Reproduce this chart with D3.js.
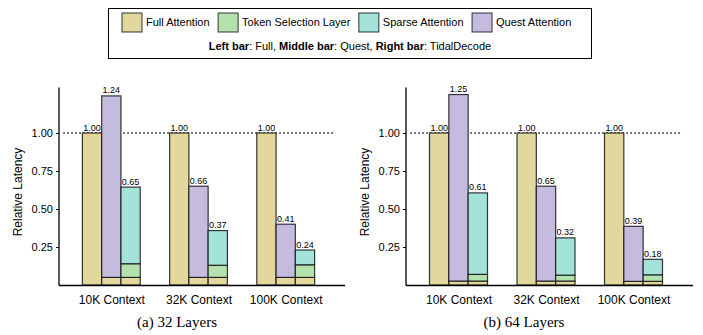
<!DOCTYPE html>
<html>
<head>
<meta charset="utf-8">
<script src="https://cdn.jsdelivr.net/npm/d3@7"></script>
<style>
  html, body { margin: 0; padding: 0; background: #fff; }
  svg { display: block; }
  text { font-family: "Liberation Sans", Arial, Helvetica, sans-serif; fill: #000; }
</style>
</head>
<body>
<svg id="chart" width="703" height="335"></svg>
<script>
// ---------------- data ----------------
const categories = ["10K Context", "32K Context", "100K Context"];
const yTicks = [0.25, 0.50, 0.75, 1.00];
const legendNames = ["Full Attention", "Token Selection Layer", "Sparse Attention", "Quest Attention"];
const colors = ["#e2d89e", "#b3e2ad", "#a3e3d9", "#c4bbdf"];

// 32 layers
const full32 = [1.00, 1.00, 1.00];
const questFull32 = [0.05, 0.05, 0.05];
const questTotal32 = [1.244, 0.65, 0.40];
const tidalFull32 = [0.05, 0.05, 0.05];
const tidalToken32 = [0.09, 0.08, 0.083];
const tidalTotal32 = [0.644, 0.358, 0.23];
const fullLabels32 = ["1.00", "1.00", "1.00"];
const questLabels32 = ["1.24", "0.66", "0.41"];
const tidalLabels32 = ["0.65", "0.37", "0.24"];

// 64 layers
const full64 = [1.00, 1.00, 1.00];
const questFull64 = [0.026, 0.026, 0.024];
const questTotal64 = [1.253, 0.65, 0.386];
const tidalFull64 = [0.026, 0.026, 0.024];
const tidalToken64 = [0.044, 0.039, 0.043];
const tidalTotal64 = [0.606, 0.31, 0.169];
const fullLabels64 = ["1.00", "1.00", "1.00"];
const questLabels64 = ["1.25", "0.65", "0.39"];
const tidalLabels64 = ["0.61", "0.32", "0.18"];

const captions = ["(a) 32 Layers", "(b) 64 Layers"];

// ---------------- drawing ----------------
const svg = d3.select("#chart");
const strokeCol = "rgba(20,20,20,0.85)";

function panel(opts) {
  const g = svg.append("g");
  const x = d3.scaleLinear().domain([-0.6, 2.68]).range([opts.left, opts.right]);
  const y = d3.scaleLinear().domain([0, 1.3]).range([285, 87.4]);
  const bw = x(0.221) - x(0);

  // dotted reference line
  g.append("line")
    .attr("x1", x(-0.55)).attr("x2", x(2.56))
    .attr("y1", y(1)).attr("y2", y(1))
    .attr("stroke", "#000").attr("stroke-width", 1.4)
    .attr("stroke-dasharray", "1.4,2.6");

  // bars: build segments
  const segs = [];
  categories.forEach((c, i) => {
    segs.push({ x: x(i) - 1.5 * bw, y0: 0, y1: opts.full[i], c: colors[0] });
    segs.push({ x: x(i) - 0.5 * bw, y0: 0, y1: opts.questFull[i], c: colors[0] });
    segs.push({ x: x(i) - 0.5 * bw, y0: opts.questFull[i], y1: opts.questTotal[i], c: colors[3] });
    const t1 = opts.tidalFull[i], t2 = t1 + opts.tidalToken[i];
    segs.push({ x: x(i) + 0.5 * bw, y0: 0, y1: t1, c: colors[0] });
    segs.push({ x: x(i) + 0.5 * bw, y0: t1, y1: t2, c: colors[1] });
    segs.push({ x: x(i) + 0.5 * bw, y0: t2, y1: opts.tidalTotal[i], c: colors[2] });
  });
  g.selectAll("rect.seg").data(segs).enter().append("rect")
    .attr("class", "seg")
    .attr("x", d => d.x).attr("width", bw)
    .attr("y", d => y(d.y1)).attr("height", d => y(d.y0) - y(d.y1))
    .attr("fill", d => d.c)
    .attr("stroke", strokeCol).attr("stroke-width", 1.2);

  // bar labels
  const labs = [];
  categories.forEach((c, i) => {
    labs.push({ x: x(i) - bw, v: opts.full[i], t: opts.fullLabels[i] });
    labs.push({ x: x(i), v: opts.questTotal[i], t: opts.questLabels[i] });
    labs.push({ x: x(i) + bw, v: opts.tidalTotal[i], t: opts.tidalLabels[i] });
  });
  g.selectAll("text.lab").data(labs).enter().append("text")
    .attr("class", "lab")
    .attr("x", d => d.x).attr("y", d => y(d.v) - 2.5)
    .attr("text-anchor", "middle").attr("font-size", 9)
    .text(d => d.t);

  // y axis
  const ya = d3.axisLeft(y).tickValues(yTicks).tickFormat(d3.format(".2f")).tickSize(3).tickPadding(3);
  const yg = g.append("g").attr("transform", `translate(${opts.left},0)`).call(ya);
  yg.select(".domain").attr("stroke", "#000").attr("stroke-width", 1.3)
    .attr("d", `M0,${y(0) + 0.5}V${y(1.3)}`);
  yg.selectAll(".tick line").attr("stroke", "#000");
  yg.selectAll(".tick text").attr("font-size", 11).attr("font-family", "Liberation Sans, Arial, sans-serif");

  // x axis
  const xa = d3.axisBottom(x).tickValues([0, 1, 2]).tickFormat(i => categories[i]).tickSize(0).tickPadding(10);
  const xg = g.append("g").attr("transform", `translate(0,${y(0) + 0.5})`).call(xa);
  xg.select(".domain").attr("stroke", "#000").attr("stroke-width", 1.3)
    .attr("d", `M${opts.left},0H${opts.right}`);
  xg.selectAll(".tick text").attr("font-size", 12).attr("font-family", "Liberation Sans, Arial, sans-serif");

  // y label
  g.append("text")
    .attr("transform", `translate(${opts.left - 37},192) rotate(-90)`)
    .attr("text-anchor", "middle").attr("font-size", 12)
    .text("Relative Latency");

  // caption
  g.append("text")
    .attr("x", opts.capX).attr("y", 327)
    .attr("text-anchor", "middle")
    .style("font-family", "'Liberation Serif', 'Times New Roman', serif")
    .attr("font-size", 15)
    .text(opts.caption);
}

panel({ left: 59, right: 345, capX: 177, caption: captions[0],
  full: full32, questFull: questFull32, questTotal: questTotal32,
  tidalFull: tidalFull32, tidalToken: tidalToken32, tidalTotal: tidalTotal32,
  fullLabels: fullLabels32, questLabels: questLabels32, tidalLabels: tidalLabels32 });
panel({ left: 406, right: 693, capX: 524, caption: captions[1],
  full: full64, questFull: questFull64, questTotal: questTotal64,
  tidalFull: tidalFull64, tidalToken: tidalToken64, tidalTotal: tidalTotal64,
  fullLabels: fullLabels64, questLabels: questLabels64, tidalLabels: tidalLabels64 });

// ---------------- legend ----------------
const lg = svg.append("g");
lg.append("rect").attr("x", 108.5).attr("y", 8.5).attr("width", 483).attr("height", 50)
  .attr("fill", "#fff").attr("stroke", "#000").attr("stroke-width", 1);
let cx = 122;
legendNames.forEach((n, i) => {
  lg.append("rect").attr("x", cx).attr("y", 13).attr("width", 20).attr("height", 19)
    .attr("fill", colors[i]).attr("stroke", strokeCol).attr("stroke-width", 1);
  const t = lg.append("text").attr("x", cx + 24).attr("y", 26).attr("font-size", 11).text(n);
  cx += 24 + t.node().getComputedTextLength() + 8.5;
});
const l2 = lg.append("text").attr("x", 350).attr("y", 50).attr("text-anchor", "middle").attr("font-size", 11);
[["Left bar", true], [": Full, ", false], ["Middle bar", true], [": Quest, ", false],
 ["Right bar", true], [": TidalDecode", false]].forEach(([s, b]) => {
  l2.append("tspan").attr("font-weight", b ? "bold" : "normal").text(s);
});
</script>
</body>
</html>
